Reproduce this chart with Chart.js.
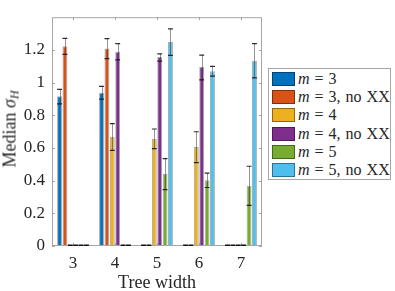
<!DOCTYPE html>
<html>
<head>
<meta charset="utf-8">
<script src="https://cdn.jsdelivr.net/npm/chart.js@4"></script>
<style>
  html, body { margin: 0; padding: 0; background: #fff; }
  #wrap { position: relative; width: 395px; height: 291px; overflow: hidden; }
  #ylab { position: absolute; left: 10px; top: 129px; transform: translate(-50%, -50%) rotate(-90deg);
    font: 18px "Liberation Serif", "DejaVu Serif", serif; color: #262626; white-space: nowrap; }
  #ylab sub { font-size: 12px; vertical-align: -3px; line-height: 0; }
  #legend { position: absolute; left: 268px; top: 68px; width: 121px; height: 109px; border: 1px solid #a6a6a6;
    background: #fff; font: 16px "Liberation Serif", "DejaVu Serif", serif; color: #262626; padding-top: 1px; box-sizing: content-box; }
  .row { height: 18.2px; display: flex; align-items: center; white-space: nowrap; word-spacing: 1px; }
  .sw { width: 21px; height: 12px; margin: 0 3px 0 3px; border: 1px solid rgba(0,0,0,0.4); }
</style>
</head>
<body>
<div id="wrap">
  <canvas id="c" width="395" height="291"></canvas>
  <div id="ylab">Median <i>σ</i><sub><i>H</i></sub></div>
  <div id="legend"></div>
</div>
<script>
// Mediana de sigma_H por ancho de árbol, con barras de error (estilo MATLAB)
var treeWidths = ['3', '4', '5', '6', '7'];
var yTicks = [0, 0.2, 0.4, 0.6, 0.8, 1, 1.2];

var seriesNames = ['m = 3', 'm = 3, no XX', 'm = 4', 'm = 4, no XX', 'm = 5', 'm = 5, no XX'];
var seriesColors = ['#0072BD', '#D95319', '#EDB120', '#7E2F8E', '#77AC30', '#4DBEEE'];

var m3 = [0.916, 0.937, 0, 0, 0];
var m3Lo = [0.870, 0.899, null, null, null];
var m3Hi = [0.958, 0.977, null, null, null];

var m3NoXX = [1.223, 1.208, 0, 0, 0];
var m3NoXXLo = [1.173, 1.147, null, null, null];
var m3NoXXHi = [1.270, 1.269, null, null, null];

var m4 = [0, 0.669, 0.657, 0.606, 0];
var m4Lo = [null, 0.585, 0.596, 0.510, null];
var m4Hi = [null, 0.749, 0.716, 0.699, null];

var m4NoXX = [0, 1.189, 1.156, 1.095, 0];
var m4NoXXLo = [null, 1.139, 1.131, 1.017, null];
var m4NoXXHi = [null, 1.238, 1.175, 1.168, null];

var m5 = [0, 0, 0.440, 0.402, 0.368];
var m5Lo = [null, null, 0.345, 0.358, 0.248];
var m5Hi = [null, null, 0.535, 0.446, 0.488];

var m5NoXX = [0, 0, 1.248, 1.069, 1.133];
var m5NoXXLo = [null, null, 1.166, 1.040, 1.029];
var m5NoXXHi = [null, null, 1.328, 1.099, 1.238];

var valores = [m3, m3NoXX, m4, m4NoXX, m5, m5NoXX];
var errLo = [m3Lo, m3NoXXLo, m4Lo, m4NoXXLo, m5Lo, m5NoXXLo];
var errHi = [m3Hi, m3NoXXHi, m4Hi, m4NoXXHi, m5Hi, m5NoXXHi];

var TXT = '#262626';
var SERIF = '"Liberation Serif", "DejaVu Serif", serif';

// Caja, marcas hacia dentro y barras de error
var ejesMatlab = {
  id: 'ejesMatlab',
  afterDatasetsDraw: function (chart) {
    var ctx = chart.ctx, y = chart.scales.y;
    ctx.save();
    chart.data.datasets.forEach(function (ds, i) {
      var meta = chart.getDatasetMeta(i);
      meta.data.forEach(function (el, j) {
        var w = el.width;
        var lo = errLo[i][j], hi = errHi[i][j];
        if (lo == null || hi == null) return;
        var yl = y.getPixelForValue(lo), yh = y.getPixelForValue(hi);
        var x = Math.round(el.x) + 0.5;
        ctx.strokeStyle = 'rgba(60,60,60,0.55)'; ctx.lineWidth = 1;
        ctx.beginPath(); ctx.moveTo(x, yl); ctx.lineTo(x, yh); ctx.stroke();
        ctx.strokeStyle = 'rgba(20,20,20,0.9)'; ctx.lineWidth = 1.2;
        ctx.beginPath();
        ctx.moveTo(el.x - w / 2, yl); ctx.lineTo(el.x + w / 2, yl);
        ctx.moveTo(el.x - w / 2, yh); ctx.lineTo(el.x + w / 2, yh);
        ctx.stroke();
      });
    });
    ctx.restore();
  },
  afterDraw: function (chart) {
    var ctx = chart.ctx, a = chart.chartArea, x = chart.scales.x, y = chart.scales.y;
    ctx.save();
    ctx.strokeStyle = '#a6a6a6'; ctx.lineWidth = 1;
    ctx.strokeRect(a.left + 0.5, a.top + 0.5, a.right - a.left - 1, a.bottom - a.top - 1);
    ctx.beginPath();
    x.ticks.forEach(function (t, i) {
      var px = Math.round(x.getPixelForTick(i)) + 0.5;
      ctx.moveTo(px, a.bottom); ctx.lineTo(px, a.bottom - 3);
      ctx.moveTo(px, a.top); ctx.lineTo(px, a.top + 3);
    });
    yTicks.forEach(function (v) {
      var py = Math.round(y.getPixelForValue(v)) + 0.5;
      ctx.moveTo(a.left, py); ctx.lineTo(a.left + 3, py);
      ctx.moveTo(a.right, py); ctx.lineTo(a.right - 3, py);
    });
    ctx.stroke();
    // barras de altura cero: trazo oscuro sobre la línea base
    ctx.strokeStyle = '#111'; ctx.lineWidth = 1.5;
    ctx.beginPath();
    chart.data.datasets.forEach(function (ds, i) {
      chart.getDatasetMeta(i).data.forEach(function (el, j) {
        if (ds.data[j] !== 0) return;
        ctx.moveTo(el.x - el.width / 2, a.bottom - 0.75); ctx.lineTo(el.x + el.width / 2, a.bottom - 0.75);
      });
    });
    ctx.stroke();
    ctx.restore();
  }
};

var datasets = valores.map(function (v, i) {
  return {
    label: seriesNames[i],
    data: v,
    backgroundColor: seriesColors[i],
    borderColor: 'rgba(0,0,0,0.35)',
    borderWidth: 1,
    categoryPercentage: 0.77,
    barPercentage: 0.9
  };
});

new Chart(document.getElementById('c'), {
  type: 'bar',
  data: { labels: treeWidths, datasets: datasets },
  options: {
    responsive: false, animation: false, devicePixelRatio: 1,
    layout: { padding: { top: 1, right: 133, left: 0, bottom: 0 } },
    plugins: { legend: { display: false }, tooltip: { enabled: false } },
    scales: {
      x: {
        grid: { display: false, drawTicks: false }, border: { display: false },
        ticks: { color: TXT, font: { family: SERIF, size: 17 }, padding: 7 },
        title: { display: true, text: 'Tree width', color: TXT, font: { family: SERIF, size: 18, lineHeight: 0.85 }, padding: 0 },
        afterFit: function (s) { s.height = 45; }
      },
      y: {
        min: 0, max: 1.4,
        grid: { display: false, drawTicks: false }, border: { display: false },
        afterBuildTicks: function (s) { s.ticks = yTicks.map(function (v) { return { value: v }; }); },
        ticks: { color: TXT, font: { family: SERIF, size: 17 }, padding: 7,
          callback: function (v) { return String(Math.round(v * 10) / 10); } },
        afterFit: function (s) { s.width = 52; }
      }
    }
  },
  plugins: [ejesMatlab]
});

// Leyenda HTML con la m en cursiva
var leyenda = document.getElementById('legend');
leyenda.innerHTML = seriesNames.map(function (n, i) {
  return '<div class="row"><span class="sw" style="background:' + seriesColors[i] + '"></span><span><i>m</i>' + n.slice(1) + '</span></div>';
}).join('');
</script>
</body>
</html>
